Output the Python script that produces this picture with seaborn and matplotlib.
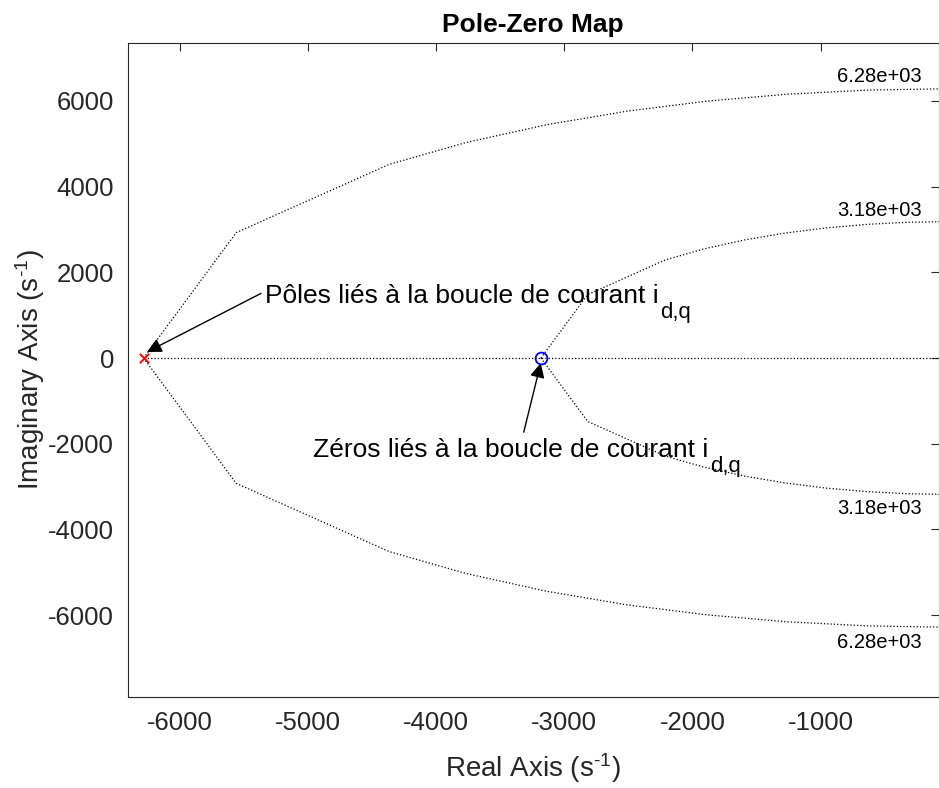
import numpy as np
import pandas as pd
import matplotlib
matplotlib.use("Agg")
import matplotlib.pyplot as plt
import seaborn as sns

# values
wn_grid = [6283, 3183]                     # natural-frequency circles (rad/s)
zeta_grid = [1.0, 0.885, 0.695, 0.6, 0.5, 0.4, 0.3, 0.2, 0.1, 0.0]  # vertices along each circle
pole_re = [-6283]
pole_im = [0]
zero_re = [-3183]
zero_im = [0]
x_ticks = [-6000, -5000, -4000, -3000, -2000, -1000]
y_ticks = [-6000, -4000, -2000, 0, 2000, 4000, 6000]

sns.set_theme(style="white")
plt.rcParams['font.family'] = ['Liberation Sans', 'DejaVu Sans']
plt.rcParams['mathtext.fontset'] = 'custom'
plt.rcParams['mathtext.rm'] = 'Liberation Sans'
plt.rcParams['mathtext.it'] = 'Liberation Sans:italic'
plt.rcParams['mathtext.default'] = 'regular'
plt.rcParams['axes.unicode_minus'] = False
axcol = '#262626'

# grid curves: each circle in upper and lower half-plane
rows = []
for wn in wn_grid:
    for sgn in (1, -1):
        for z in zeta_grid:
            rows.append({'re': -wn * z, 'im': sgn * wn * np.sqrt(1 - z ** 2),
                         'branch': f'{wn}_{sgn}'})
grid_df = pd.DataFrame(rows)

fig = plt.figure(figsize=(9.39, 7.88), dpi=100)
ax = fig.add_axes([128 / 939, 1 - 697 / 788, 1 - 128 / 939 - 0.0005, (697 - 43) / 788])

sns.lineplot(data=grid_df, x='re', y='im', units='branch', estimator=None, sort=False,
             color='black', linestyle=':', linewidth=0.9, ax=ax, legend=False)
ax.plot([-max(wn_grid), 0], [0, 0], color='black', linestyle=':', linewidth=0.9)

sns.scatterplot(x=pole_re, y=pole_im, marker='x', color='red', s=45, linewidth=1.4, ax=ax, zorder=5)
ax.plot(zero_re, zero_im, marker='o', markersize=8.5, markerfacecolor='none',
        markeredgecolor='blue', markeredgewidth=1.3, linestyle='none', zorder=5)

# circle labels
lx = -540
for wn in wn_grid:
    ly = np.sqrt(wn ** 2 - lx ** 2)
    lab = f'{wn:.2e}'
    ax.annotate(lab, xy=(lx, ly), xytext=(0, 13), textcoords='offset pixels',
                ha='center', va='center', fontsize=14.5, color='black')
    ax.annotate(lab, xy=(lx, -ly), xytext=(0, -16), textcoords='offset pixels',
                ha='center', va='center', fontsize=14.5, color='black')

ax.set_xlim(-6405, -80)
ax.set_ylim(-7910, 7350)
ax.set_xticks(x_ticks)
ax.set_yticks(y_ticks)
ax.tick_params(direction='in', length=6, width=0.8, colors=axcol, labelsize=18.5,
               top=True, right=True, pad=10)
for sp in ax.spines.values():
    sp.set_color(axcol)
    sp.set_linewidth(0.8)

ax.set_xlabel(r'Real Axis (s$^{\text{-1}}$)', fontsize=20, color=axcol, labelpad=12)
ax.set_ylabel(r'Imaginary Axis (s$^{\text{-1}}$)', fontsize=20, color=axcol)
ax.yaxis.set_label_coords(-0.100, 0.5)
ax.set_title('Pole-Zero Map', fontsize=19, fontweight='bold', color='black', pad=8)

t1 = ax.annotate('Pôles liés à la boucle de courant i',
                 xy=(-6257, 140), xytext=(-5337, 1287), fontsize=19, color='black',
                 ha='left', va='baseline',
                 arrowprops=dict(arrowstyle='-|>', color='black', lw=1, mutation_scale=22,
                                 shrinkA=0, shrinkB=0, relpos=(-0.01, 0.6)))
t2 = ax.text(-4963, -2316, 'Zéros liés à la boucle de courant i', fontsize=19,
             color='black', ha='left', va='baseline')
ax.annotate('', xy=(-3184, -117), xytext=(-3317, -1731),
            arrowprops=dict(arrowstyle='-|>', color='black', lw=1, mutation_scale=22,
                            shrinkA=0, shrinkB=0))

# subscripts d,q placed after the end of each sentence
fig.canvas.draw()
for t, (tx, ty) in ((t1, (-5337, 1287)), (t2, (-4963, -2316))):
    bb = t.get_window_extent()
    base = ax.transData.transform((tx, ty))[1]
    fig.text(bb.x1 + 2, base - 15, 'd,q', fontsize=16, color='black',
             ha='left', va='baseline', transform=None)

fig.savefig('out.png', dpi=100)
